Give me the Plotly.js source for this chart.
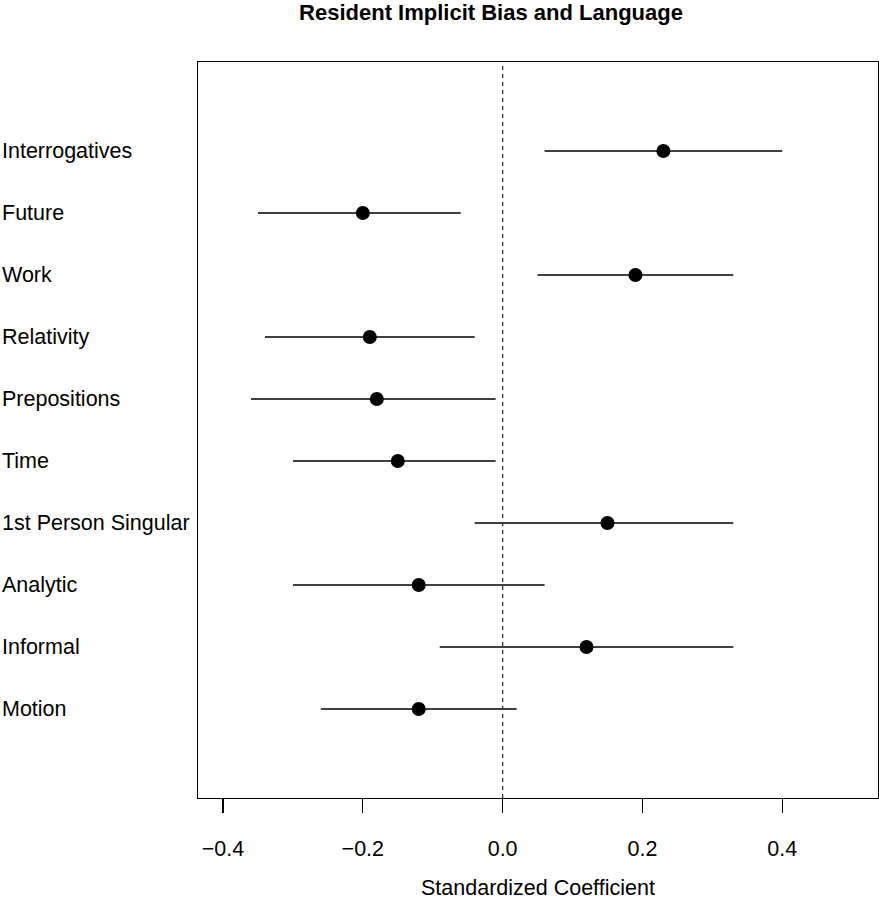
<!DOCTYPE html>
<html>
<head>
<meta charset="utf-8">
<script src="https://cdn.plot.ly/plotly-3.0.1.min.js"></script>
<style>body{margin:0;background:#fff}</style>
</head>
<body>
<div id="chart" style="width:879px;height:900px"></div>
<script>
// Predictors, top to bottom as they appear
const terms = ['Interrogatives', 'Future', 'Work', 'Relativity', 'Prepositions',
               'Time', '1st Person Singular', 'Analytic', 'Informal', 'Motion'];
// Standardized coefficient estimates and interval bounds
const estimate = [0.23, -0.20, 0.19, -0.19, -0.18, -0.15, 0.15, -0.12, 0.12, -0.12];
const lower    = [0.06, -0.35, 0.05, -0.34, -0.36, -0.30, -0.04, -0.30, -0.09, -0.26];
const upper    = [0.40, -0.06, 0.33, -0.04, -0.01, -0.01, 0.33, 0.06, 0.33, 0.02];
const xTicks = [-0.4, -0.2, 0.0, 0.2, 0.4];

const ypos = terms.map((_, i) => terms.length - i);
const font = 'Liberation Sans, Arial, Helvetica, sans-serif';
const fsize = 21.5;

const trace = {
    x: estimate,
    y: ypos,
    mode: 'markers',
    type: 'scatter',
    marker: { color: 'black', size: 14 },
    error_x: {
        type: 'data',
        symmetric: false,
        array: upper.map((u, i) => u - estimate[i]),
        arrayminus: estimate.map((e, i) => e - lower[i]),
        color: 'black',
        thickness: 1.3,
        width: 0
    },
    hoverinfo: 'skip'
};

// row labels, left aligned at the page edge
const plotW = 879 - 198 - 1;
const labels = terms.map((t, i) => ({
    text: t, x: -198 / plotW, xref: 'paper', xanchor: 'left',
    y: ypos[i], yref: 'y', yanchor: 'middle', showarrow: false,
    font: { family: font, size: fsize, color: 'black' }
}));

labels.push({
    text: 'Standardized Coefficient', x: 0.5, xref: 'paper', xanchor: 'center',
    y: -90 / 736, yref: 'paper', yanchor: 'middle', showarrow: false,
    font: { family: font, size: fsize, color: 'black' }
});

const layout = {
    width: 879,
    height: 900,
    margin: { l: 198, r: 1, t: 62, b: 102 },
    paper_bgcolor: 'white',
    plot_bgcolor: 'white',
    showlegend: false,
    title: {
        text: '<b>Resident Implicit Bias and Language</b>',
        font: { family: font, size: 22, color: 'black' },
        x: 491 / 879, xanchor: 'center',
        y: 1 - 12 / 900, yanchor: 'middle'
    },
    xaxis: {
        range: [-0.4358, 0.537],
        tickvals: xTicks,
        ticktext: xTicks.map(v => v === 0 ? '0.0' : (v < 0 ? '\u2212' : '') + Math.abs(v).toFixed(1)),
        ticks: 'outside', ticklen: 14, tickwidth: 1.3, tickcolor: 'black',
        ticklabelstandoff: 17,
        tickfont: { family: font, size: fsize, color: 'black' },
        showgrid: false, zeroline: false,
        showline: true, mirror: true, linecolor: 'black', linewidth: 1.3
    },
    yaxis: {
        range: [-0.435, 11.435],
        showticklabels: false, ticks: '',
        showgrid: false, zeroline: false,
        showline: true, mirror: true, linecolor: 'black', linewidth: 1.3
    },
    shapes: [{
        type: 'line', xref: 'x', yref: 'paper', x0: 0, x1: 0, y0: 0, y1: 1,
        line: { color: '#333', width: 1.3, dash: '4px,4px' }
    }],
    annotations: labels
};

Plotly.newPlot('chart', [trace], layout, { displayModeBar: false, staticPlot: true });
</script>
</body>
</html>
